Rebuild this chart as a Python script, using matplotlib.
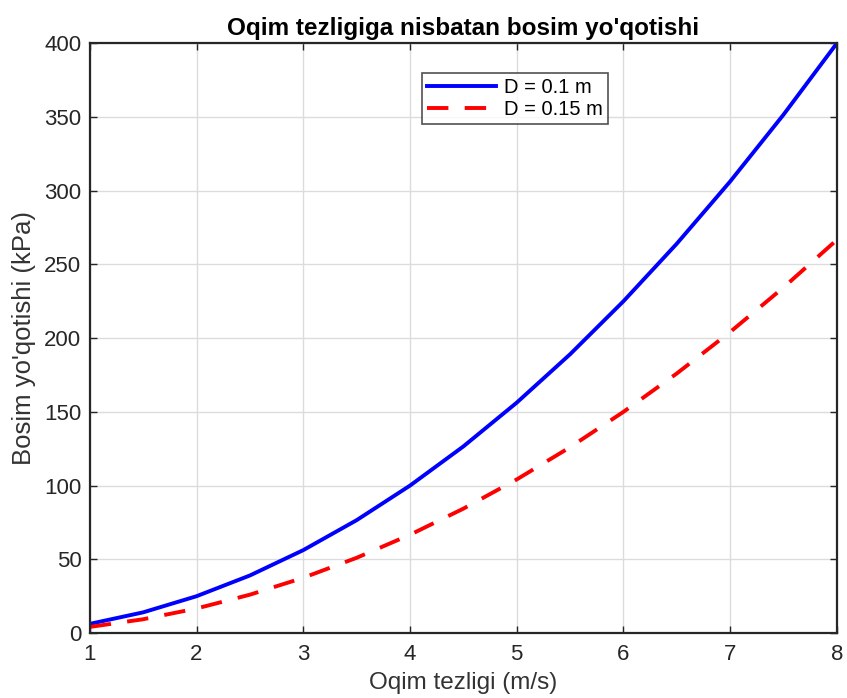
import matplotlib
matplotlib.use("Agg")
import matplotlib.pyplot as plt

# Flow velocity (m/s) and pressure loss (kPa) for two pipe diameters
velocity = [1.0, 1.5, 2.0, 2.5, 3.0, 3.5, 4.0, 4.5, 5.0, 5.5, 6.0, 6.5, 7.0, 7.5, 8.0]
loss_d010 = [6.25, 14.06, 25.0, 39.06, 56.25, 76.56, 100.0, 126.56, 156.25,
             189.06, 225.0, 264.06, 306.25, 351.56, 400.0]
loss_d015 = [4.17, 9.38, 16.67, 26.04, 37.5, 51.04, 66.67, 84.38, 104.17,
             126.04, 150.0, 176.04, 204.17, 234.38, 266.67]
labels = ["D = 0.1 m", "D = 0.15 m"]

plt.rcParams["font.family"] = ["Liberation Sans", "DejaVu Sans"]

fig = plt.figure(figsize=(8.47, 6.98), dpi=100)
ax = fig.add_axes([0.106, 0.093, 0.882, 0.845])

ax.plot(velocity, loss_d010, color="#0000ff", lw=2.8, label=labels[0])
ax.plot(velocity, loss_d015, color="#ff0000", lw=2.8, ls=(0, (5.5, 4.2)), label=labels[1])

ax.set_xlim(1, 8)
ax.set_ylim(0, 400)
ax.set_xticks(range(1, 9))
ax.set_yticks(range(0, 401, 50))
ax.grid(True, color="#dcdcdc", lw=1.0)
ax.tick_params(direction="in", top=True, right=True, labelsize=16,
               colors="#262626", length=5, width=1.0)
ax.tick_params(axis="x", pad=8)
ax.tick_params(axis="y", pad=6)
for s in ax.spines.values():
    s.set_color("#262626")
    s.set_linewidth(1.6)

ax.set_xlabel("Oqim tezligi (m/s)", fontsize=17.5, color="#333333", labelpad=5)
ax.set_ylabel("Bosim yo'qotishi (kPa)", fontsize=18.5, color="#333333", labelpad=6)
ax.set_title("Oqim tezligiga nisbatan bosim yo'qotishi", fontsize=17.5,
             fontweight="bold", pad=6)

leg = ax.legend(loc="upper left", bbox_to_anchor=(0.445, 0.95), fontsize=14.5,
                fancybox=False, edgecolor="#262626", handlelength=3.4,
                borderpad=0.25, labelspacing=0.15, handletextpad=0.4, borderaxespad=0)
leg.get_frame().set_linewidth(1.2)

fig.savefig("out.png", dpi=100)
